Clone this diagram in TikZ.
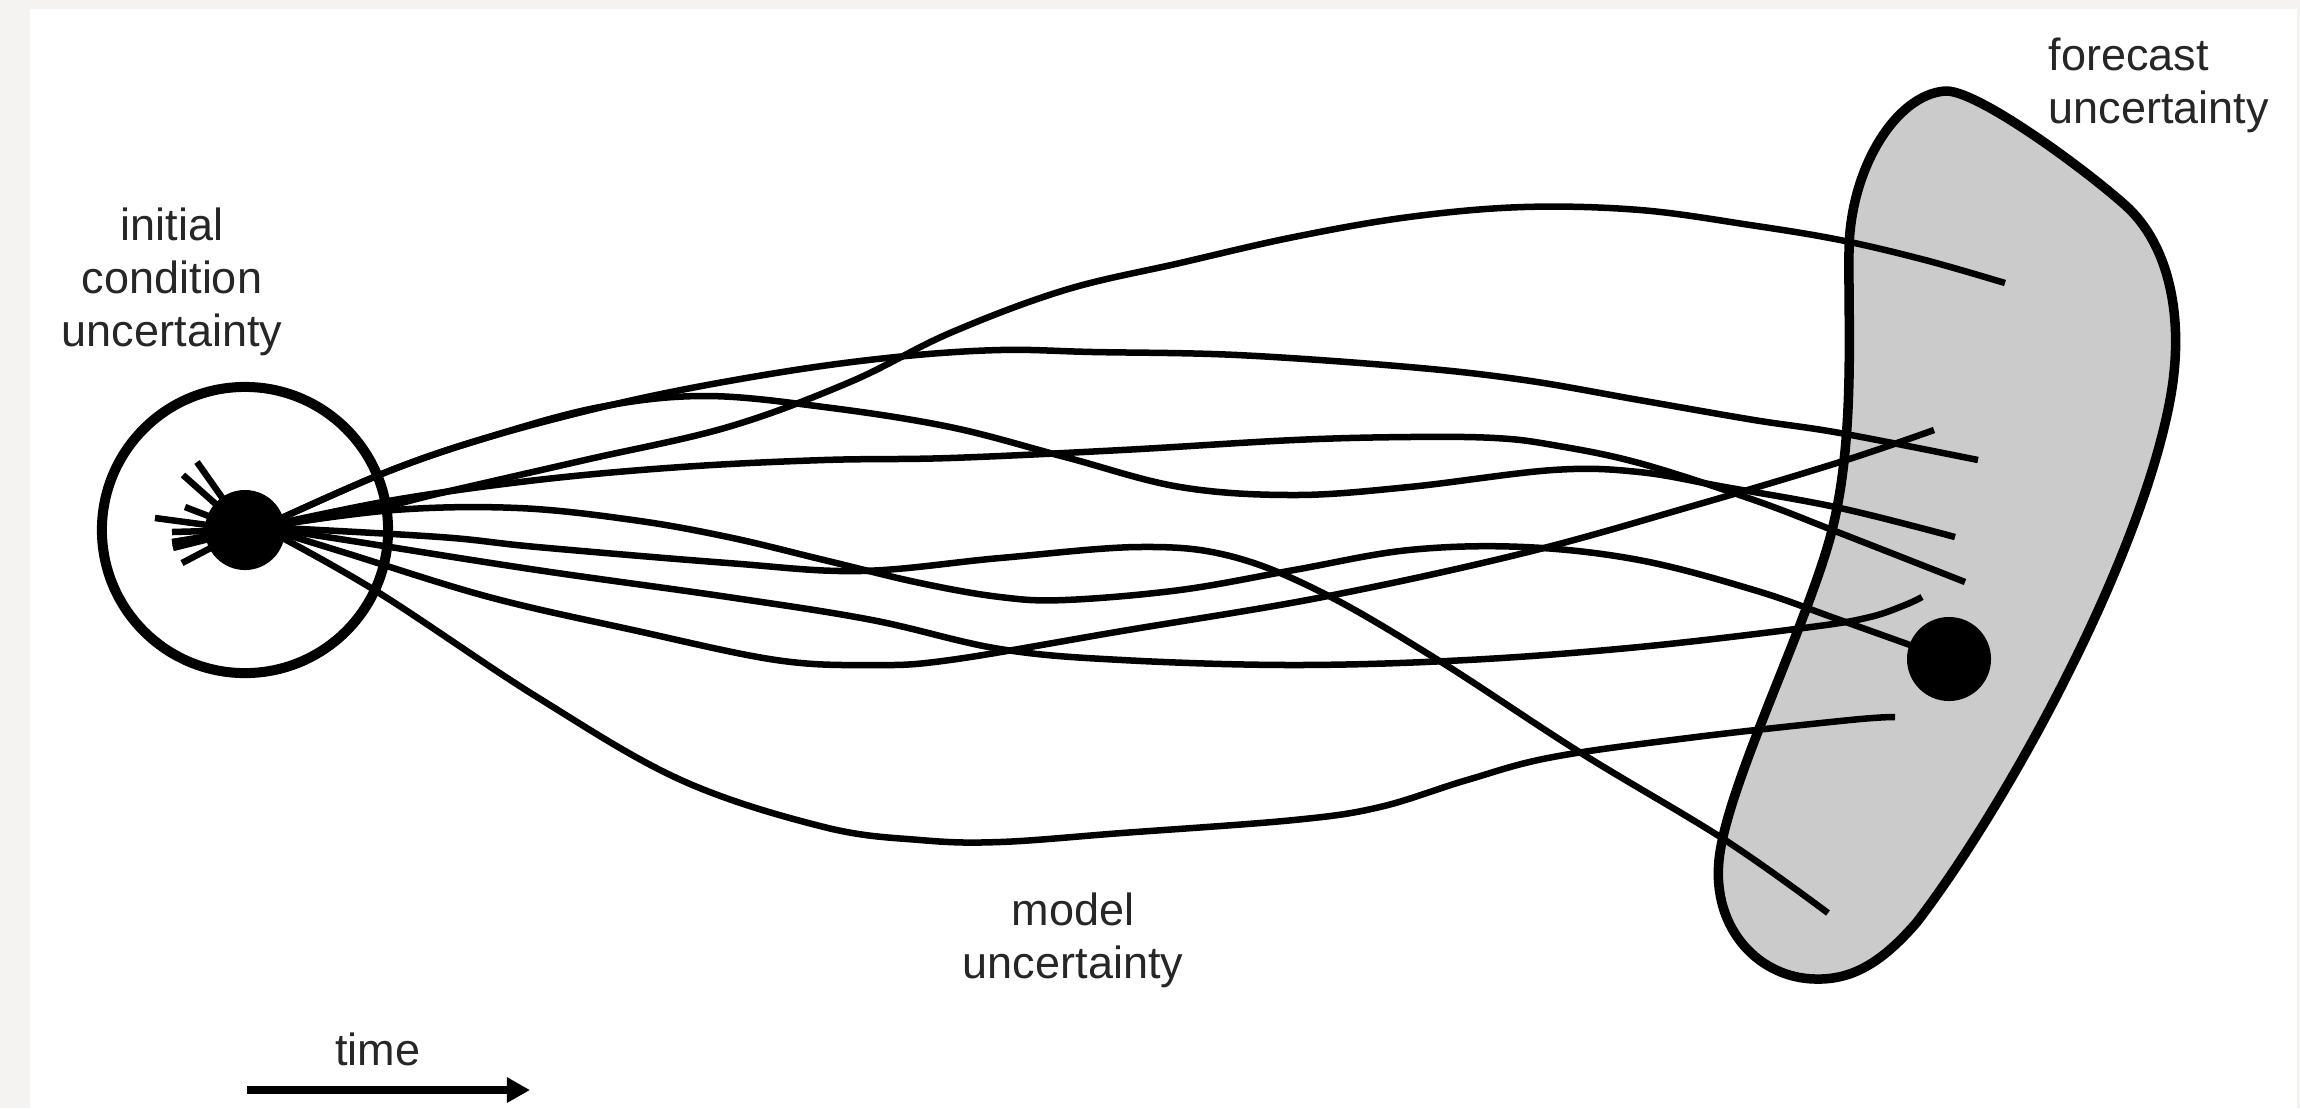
\documentclass[tikz,border=0pt]{standalone}
\usepackage{fontspec}
\setmainfont{Liberation Sans}
\usetikzlibrary{arrows.meta}
\definecolor{framegray}{HTML}{F4F3F1}
\definecolor{blobgray}{HTML}{CBCBCB}
\tikzset{
  traj/.style={line width=0.065cm, black},
  ring/.style={circle, draw=black, line width=0.1cm, minimum size=2.86cm, inner sep=0pt},
  dot/.style={circle, fill=black, inner sep=0pt, minimum size=#1},
  dot/.default={0.8cm},
  region/.style={draw=black, line width=0.095cm, fill=blobgray},
  lbl/.style={align=center, font=\fontsize{12.8}{15}\selectfont, text=black!85, inner sep=0pt},
  arr/.style={-{Triangle[length=0.23cm, width=0.24cm]}, line width=0.08cm, black},
}

\begin{document}
\begin{tikzpicture}[x=0.01cm, y=-0.01cm]
% page
\fill[framegray] (0,0) rectangle (2300,1108);
\fill[white] (30,9) rectangle (2297,1108);
\useasboundingbox (0,0) rectangle (2300,1108);
% forecast region
\draw[region] (1945,91) .. controls (1975,89) and (2080,165) .. (2125,205)
  .. controls (2170,245) and (2185,320) .. (2170,400)
  .. controls (2140,560) and (2010,800) .. (1917,922)
  .. controls (1880,965) and (1850,980) .. (1815,979)
  .. controls (1760,978) and (1712,930) .. (1719,860)
  .. controls (1726,790) and (1800,640) .. (1828,545)
  .. controls (1856,450) and (1848,330) .. (1849,250)
  .. controls (1850,170) and (1895,95) .. (1945,91) -- cycle;
% start and end points
\coordinate (src) at (245,530);
\coordinate (hub) at (262,527);
\node[ring] (ic) at (src) {};
\coordinate (e1) at (2005,283);
\coordinate (e2) at (1978,460);
\coordinate (e3) at (1934,430);
\coordinate (e4) at (1955,537);
\coordinate (e5) at (1965,582);
\coordinate (e6) at (1922,597);
\coordinate (e8) at (1895,717);
\coordinate (e9) at (1828,913);
\coordinate (fc) at (1949,659);
% trajectories
\draw[traj] plot[smooth, tension=0.6] coordinates {(hub) (370,510) (441,493) (585,460) (728,427)
  (850,382) (950,333) (1065,290) (1180,263) (1294,237) (1409,217) (1524,207) (1640,210)
  (1750,225) (1840,240) (1925,260) (e1)};
\draw[traj] plot[smooth, tension=0.6] coordinates {(hub) (384,473) (489,437) (633,400) (776,373)
  (896,357) (1000,350) (1093,352) (1237,355) (1409,367) (1524,380) (1639,400) (1754,420)
  (1840,433) (e2)};
\draw[traj] plot[smooth, tension=0.6] coordinates {(hub) (384,473) (489,437) (600,407) (705,396)
  (824,407) (950,427) (1065,457) (1180,487) (1294,495) (1409,487) (1553,470) (1639,472)
  (1725,487) (1840,508) (e4)};
\draw[traj] plot[smooth, tension=0.6] coordinates {(hub) (394,500) (537,480) (681,467) (824,460)
  (950,458) (1122,450) (1294,440) (1409,437) (1495,438) (1553,445) (1639,463) (1754,500)
  (1840,533) (e5)};
\draw[traj] plot[smooth, tension=0.6] coordinates {(hub) (394,510) (518,508) (633,520) (728,537)
  (824,560) (920,583) (1000,597) (1065,600) (1180,590) (1294,570) (1409,550) (1524,547)
  (1639,560) (1754,590) (1840,620) (fc)};
\draw[traj] plot[smooth, tension=0.6] coordinates {(hub) (440,537) (537,547) (728,563) (860,571)
  (1000,558) (1139,547) (1230,556) (1323,593) (1438,660) (1581,753) (1725,840) (e9)};
\draw[traj] plot[smooth, tension=0.6] coordinates {(hub) (346,540) (537,570) (728,597) (872,620)
  (1000,649) (1122,660) (1294,665) (1467,660) (1639,647) (1811,627) (1870,617) (1905,605) (e6)};
\draw[traj] plot[smooth, tension=0.6] coordinates {(hub) (346,553) (489,597) (633,630) (776,660)
  (872,665) (950,660) (1122,631) (1323,597) (1524,553) (1696,505) (1840,462) (e3)};
\draw[traj] plot[smooth, tension=0.6] coordinates {(hub) (376,591) (537,697) (681,780) (824,827)
  (920,840) (1000,842) (1122,833) (1294,820) (1380,807) (1467,780) (1553,757) (1696,737)
  (1850,720) (e8)};
% short tails behind the start
\foreach \a/\b in {197/462, 183/475, 185/507, 155/518, 172/532, 172/542, 173/548, 182/563}
  \draw[traj] (\a,\b) -- (src);
\node[dot] (icdot) at (src) {};
\node[dot=0.84cm] (fcdot) at (fc) {};
% labels
\node[lbl] (iclbl) at (172,282) {initial\\condition\\uncertainty};
\node[lbl, align=left, anchor=north west] (fclbl) at (2048,37) {forecast\\uncertainty};
\node[lbl] (mlbl) at (1073,940) {model\\uncertainty};
% time arrow
\coordinate (t0) at (247,1090);
\coordinate (t1) at (530,1090);
\draw[arr] (t0) -- (t1);
\node[lbl, anchor=base] (tlbl) at (378,1065) {time};
\end{tikzpicture}
\end{document}
